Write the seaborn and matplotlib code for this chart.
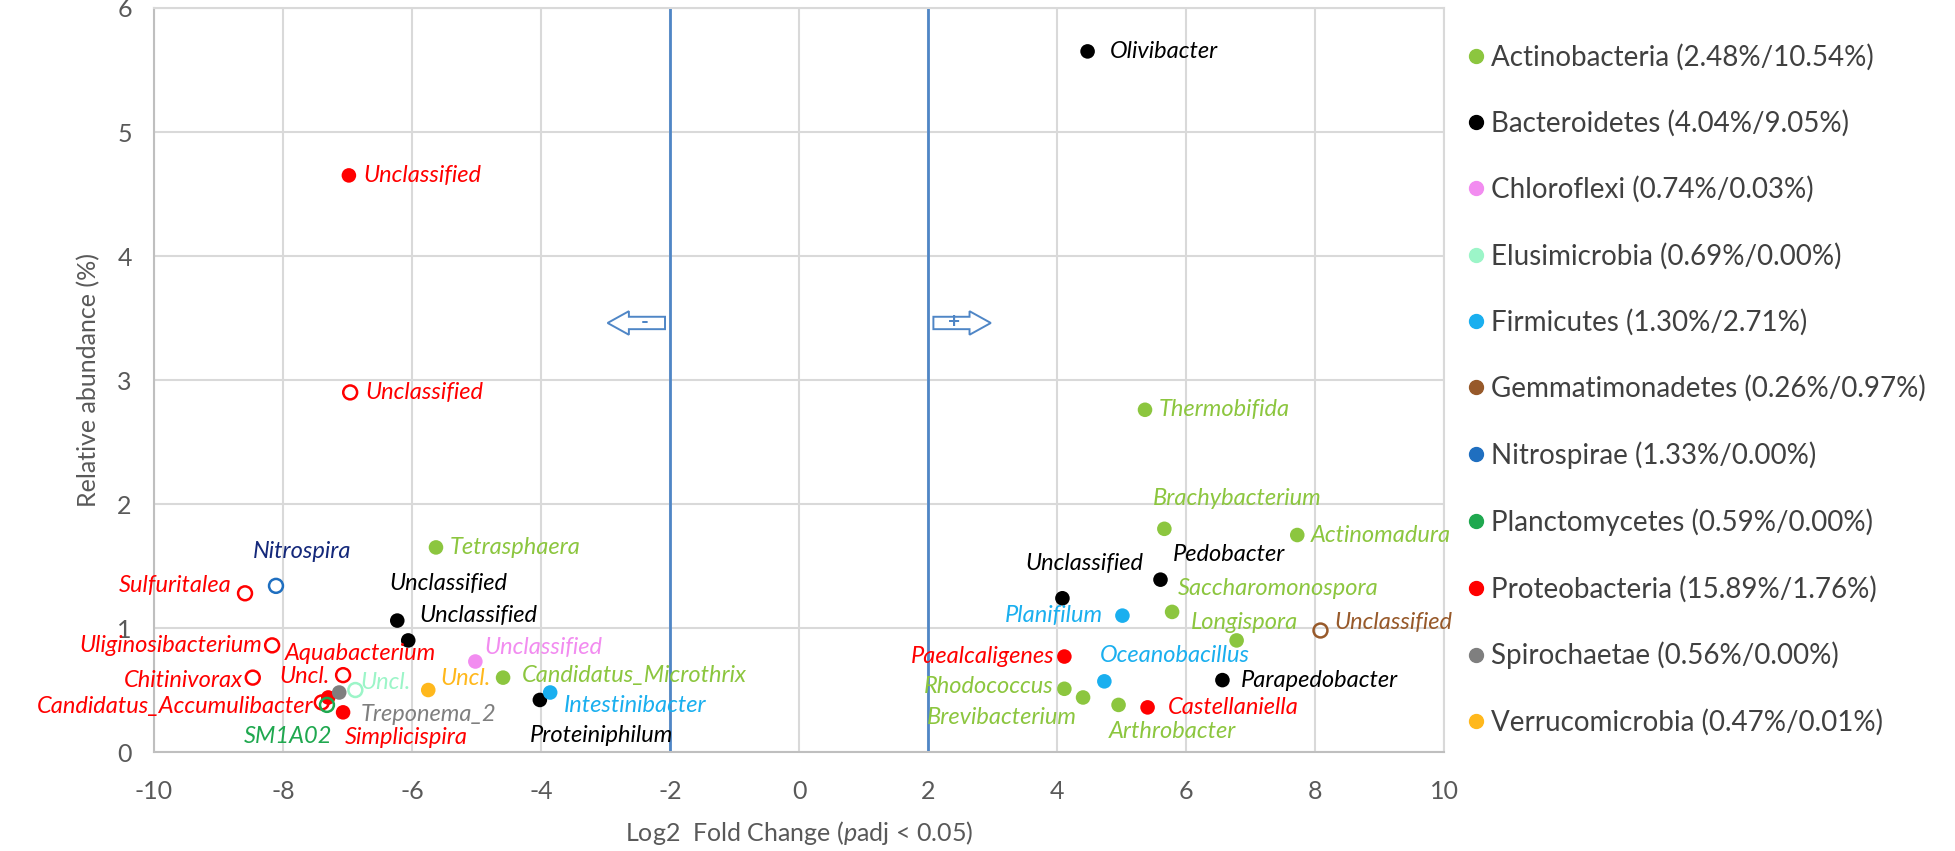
import seaborn as sns
import pandas as pd
import matplotlib.pyplot as plt
from matplotlib.lines import Line2D
from matplotlib.patches import FancyArrow

# genus labels, log2 fold change, relative abundance (%), phylum, hollow marker
names = ["Unclassified", "Unclassified", "Tetrasphaera", "Nitrospira", "Sulfuritalea",
         "Unclassified", "Unclassified", "Uliginosibacterium", "Aquabacterium", "Uncl.",
         "Chitinivorax", "Candidatus_Accumulibacter", "Treponema_2", "SM1A02", "Simplicispira",
         "Uncl.", "Uncl.", "Unclassified", "Candidatus_Microthrix", "Proteiniphilum",
         "Intestinibacter",
         "Olivibacter", "Thermobifida", "Brachybacterium", "Actinomadura", "Pedobacter",
         "Unclassified", "Saccharomonospora", "Planifilum", "Longispora", "Unclassified",
         "Paealcaligenes", "Oceanobacillus", "Parapedobacter", "Rhodococcus",
         "Brevibacterium", "Arthrobacter", "Castellaniella"]
log2fc = [-6.98, -6.96, -5.63, -8.11, -8.59,
          -6.23, -6.06, -8.17, -7.30, -7.07,
          -8.47, -7.40, -7.13, -7.32, -7.07,
          -6.88, -5.75, -5.02, -4.59, -4.02,
          -3.86,
          4.47, 5.36, 5.66, 7.72, 5.60,
          4.08, 5.78, 5.01, 6.78, 8.08,
          4.11, 4.73, 6.56, 4.11,
          4.40, 4.95, 5.40]
abundance = [4.65, 2.90, 1.65, 1.34, 1.28,
             1.06, 0.90, 0.86, 0.44, 0.62,
             0.60, 0.40, 0.48, 0.38, 0.32,
             0.50, 0.50, 0.73, 0.60, 0.42,
             0.48,
             5.65, 2.76, 1.80, 1.75, 1.39,
             1.24, 1.13, 1.10, 0.90, 0.98,
             0.77, 0.57, 0.58, 0.51,
             0.44, 0.38, 0.36]
phylum = ["Proteobacteria", "Proteobacteria", "Actinobacteria", "Nitrospirae", "Proteobacteria",
          "Bacteroidetes", "Bacteroidetes", "Proteobacteria", "Proteobacteria", "Proteobacteria",
          "Proteobacteria", "Proteobacteria", "Spirochaetae", "Planctomycetes", "Proteobacteria",
          "Elusimicrobia", "Verrucomicrobia", "Chloroflexi", "Actinobacteria", "Bacteroidetes",
          "Firmicutes",
          "Bacteroidetes", "Actinobacteria", "Actinobacteria", "Actinobacteria", "Bacteroidetes",
          "Bacteroidetes", "Actinobacteria", "Firmicutes", "Actinobacteria", "Gemmatimonadetes",
          "Proteobacteria", "Firmicutes", "Bacteroidetes", "Actinobacteria",
          "Actinobacteria", "Actinobacteria", "Proteobacteria"]
hollow = [False, True, False, True, True,
          False, False, True, False, True,
          True, True, False, True, False,
          True, False, False, False, False,
          False,
          False, False, False, False, False,
          False, False, False, False, True,
          False, False, False, False,
          False, False, False]

phyla = ["Actinobacteria", "Bacteroidetes", "Chloroflexi", "Elusimicrobia", "Firmicutes",
         "Gemmatimonadetes", "Nitrospirae", "Planctomycetes", "Proteobacteria",
         "Spirochaetae", "Verrucomicrobia"]
phyla_share = ["(2.48%/10.54%)", "(4.04%/9.05%)", "(0.74%/0.03%)", "(0.69%/0.00%)",
               "(1.30%/2.71%)", "(0.26%/0.97%)", "(1.33%/0.00%)", "(0.59%/0.00%)",
               "(15.89%/1.76%)", "(0.56%/0.00%)", "(0.47%/0.01%)"]
colors = ["#8CC63F", "#000000", "#F28CF0", "#9CF5C8", "#1AAFEF", "#97592A",
          "#1F6FC0", "#1FA84F", "#FF0000", "#7F7F7F", "#FFB81C"]
palette = dict(zip(phyla, colors))

# label placement: offset in pixels from the point, horizontal alignment
label_pos = [(15, 0, "left"), (15, 0, "left"), (14, 0, "left"), (26, 34, "center"), (-13, 8, "right"),
             (-8, 37, "left"), (11, 25, "left"), (-10, 0, "right"), (32, 44, "center"), (-13, -1, "right"),
             (-10, -3, "right"), (-8, -4, "right"), (21, -22, "left"), (5, -32, "right"), (2, -25, "left"),
             (5, 8, "left"), (12, 12, "left"), (9, 14, "left"), (19, 2, "left"), (-10, -36, "left"),
             (14, -13, "left"),
             (22, 0, "left"), (14, 0, "left"), (-12, 30, "left"), (14, 0, "left"), (12, 25, "left"),
             (-37, 35, "left"), (6, 23, "left"), (-19, 0, "right"), (8, 18, "center"), (14, 8, "left"),
             (-10, 0, "right"), (-5, 26, "left"), (18, 0, "left"), (-11, 2, "right"),
             (-6, -20, "right"), (-10, -27, "left"), (20, 0, "left")]
label_color = {"Nitrospira": "#14287A"}

df = pd.DataFrame({"name": names, "log2fc": log2fc, "abundance": abundance,
                   "phylum": phylum, "hollow": hollow})

sns.set_theme(style="white")
plt.rcParams["font.family"] = ["Lato", "DejaVu Sans"]
plt.rcParams["mathtext.fontset"] = "custom"
plt.rcParams["mathtext.it"] = "Lato:italic"
plt.rcParams["mathtext.rm"] = "Lato"
plt.rcParams["axes.unicode_minus"] = False

fig = plt.figure(figsize=(19.55, 8.51), dpi=100)
ax = fig.add_axes([0.0788, 0.1163, 0.66, 0.8743])

filled = df[~df["hollow"]]
sns.scatterplot(data=filled, x="log2fc", y="abundance", hue="phylum", palette=palette,
                s=110, linewidth=0, legend=False, ax=ax, zorder=3)
opened = df[df["hollow"]]
ax.scatter(opened["log2fc"], opened["abundance"], s=100, facecolors="none",
           edgecolors=[palette[p] for p in opened["phylum"]], linewidths=1.8, zorder=3)

for (i, row), (dx, dy, ha) in zip(df.iterrows(), label_pos):
    c = label_color.get(row["name"], palette[row["phylum"]])
    ax.annotate(row["name"], (row["log2fc"], row["abundance"]), xytext=(dx, dy),
                textcoords="offset pixels", ha=ha, va="center", fontsize=17,
                style="italic", color=c, zorder=4)

# threshold lines
blue = "#4F86C6"
for xv in (-2, 2):
    ax.axvline(xv, color=blue, lw=2, zorder=2)

# direction arrows
for x0, dx, sign in ((-2.08, -0.89, "-"), (2.08, 0.89, "+")):
    ax.add_patch(FancyArrow(x0, 3.46, dx, 0, width=0.10, head_width=0.19, head_length=0.33,
                            length_includes_head=True, fc="white", ec=blue, lw=1.4, zorder=3))
    ax.text(x0 + dx * 0.36, 3.47, sign, ha="center", va="center", fontsize=15,
            color=blue, fontweight="bold", zorder=4)

ax.set_xlim(-10, 10)
ax.set_ylim(0, 6)
ax.set_xticks(range(-10, 11, 2))
ax.set_yticks(range(0, 7))
ax.grid(True, color="#D9D9D9", lw=1.5)
ax.set_axisbelow(True)
for side, sp in ax.spines.items():
    sp.set_color("#BFBFBF" if side in ("left", "bottom") else "#D9D9D9")
    sp.set_linewidth(1.5)
ax.tick_params(axis="both", length=0, labelsize=18, colors="#595959")
ax.tick_params(axis="x", pad=20)
ax.tick_params(axis="y", pad=16)
ax.set_xlabel("Log2  Fold Change ($\\it{p}$adj < 0.05)", fontsize=18, color="#595959", labelpad=12)
ax.set_ylabel("Relative abundance (%)", fontsize=18, color="#595959", labelpad=12)

handles = [Line2D([], [], marker="o", ls="", color=palette[p], markersize=10)
           for p in phyla]
labels = [f"{p} {s}" for p, s in zip(phyla, phyla_share)]
leg = fig.legend(handles, labels, loc="upper left", bbox_to_anchor=(0.742, 0.962),
                 frameon=False, fontsize=20, labelspacing=1.42, handletextpad=0.05,
                 handlelength=1.0, borderaxespad=0)
for t in leg.get_texts():
    t.set_color("#404040")

fig.savefig("out.png", dpi=100)
